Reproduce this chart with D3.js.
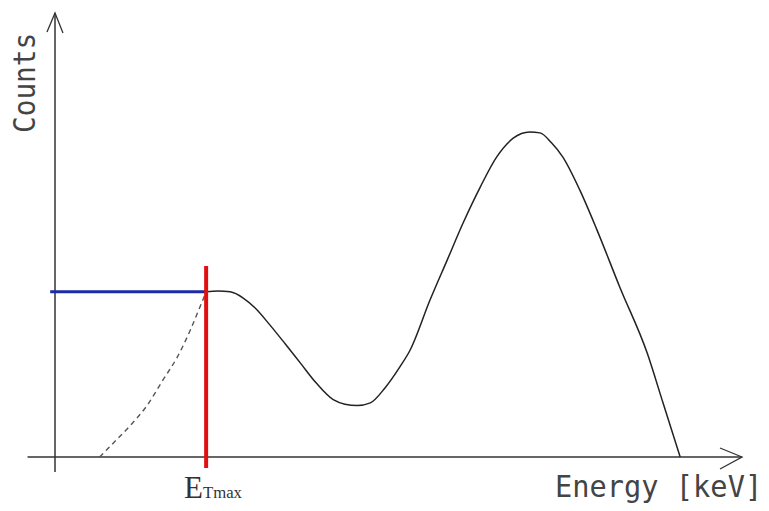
<!DOCTYPE html>
<html>
<head>
<meta charset="utf-8">
<script src="https://cdn.jsdelivr.net/npm/d3@7"></script>
<style>
  body { margin: 0; background: #fff; }
</style>
</head>
<body>
<svg id="chart"></svg>
<script>
// spectrum (solid) in arbitrary units (0-100)
var energy = [22.0, 23.7, 25.5, 27.4, 29.1, 31.3, 33.5, 35.7, 38.0, 40.5, 42.2, 44.0, 45.9, 48.0, 50.2, 51.7,
              54.6, 57.1, 59.4, 61.9, 64.3, 66.7, 69.1, 70.6, 72.3, 73.9, 76.4, 78.9, 82.2, 86.2, 88.5, 91.0]
var counts = [37.2, 37.4, 37.2, 35.8, 33.6, 29.7, 25.5, 21.2, 16.7, 12.9, 11.9, 11.6, 12.2, 15.5, 20.3, 24.1,
              35.4, 44.4, 52.7, 60.8, 67.6, 71.8, 73.2, 73.0, 70.7, 67.6, 60.1, 51.1, 38.3, 23.4, 12.2, 0]

// extrapolated low-energy part (dashed)
var dashEnergy = [6.5, 8.4, 10.9, 13.4, 15.7, 17.8, 19.7, 21.1, 22.0]
var dashCounts = [0, 3.0, 7.0, 11.6, 17.3, 22.5, 28.6, 33.8, 37.2]

var eTmax = 22.0
var cTmax = 37.2

var dimensions = {
  width: 769,
  height: 511
}

var svg = d3.select("#chart")
  .attr("width", dimensions.width)
  .attr("height", dimensions.height)

var x = d3.scaleLinear().domain([0, 100]).range([55, 742])
var y = d3.scaleLinear().domain([0, 100]).range([457, 13])

var axisColor = "#333"

// x axis + arrow
svg.append("line")
  .attr("x1", x(-4)).attr("x2", x(100))
  .attr("y1", y(0)).attr("y2", y(0))
  .attr("stroke", axisColor).attr("stroke-width", 1.5)
svg.append("path")
  .attr("d", d3.line()([[x(100) - 22, y(0) - 9], [x(100), y(0)], [x(100) - 22, y(0) + 12]]))
  .attr("fill", "none").attr("stroke", axisColor).attr("stroke-width", 1.3)

// y axis + arrow
svg.append("line")
  .attr("x1", x(0)).attr("x2", x(0))
  .attr("y1", y(-3.4)).attr("y2", y(100))
  .attr("stroke", axisColor).attr("stroke-width", 1.5)
svg.append("path")
  .attr("d", d3.line()([[x(0) - 8, y(100) + 19], [x(0), y(100)], [x(0) + 8, y(100) + 20]]))
  .attr("fill", "none").attr("stroke", axisColor).attr("stroke-width", 1.3)

// blue level line
svg.append("line")
  .attr("x1", x(-0.7)).attr("x2", x(eTmax))
  .attr("y1", y(cTmax)).attr("y2", y(cTmax))
  .attr("stroke", "#1c2aa8").attr("stroke-width", 3)

// dashed extrapolation
var dashData = dashEnergy.map((e, i) => [e, dashCounts[i]])
svg.append("path")
  .datum(dashData)
  .attr("d", d3.line().x(d => x(d[0])).y(d => y(d[1])).curve(d3.curveMonotoneX))
  .attr("fill", "none")
  .attr("stroke", "#555")
  .attr("stroke-width", 1.4)
  .attr("stroke-dasharray", "5,4")

// spectrum
var specData = energy.map((e, i) => [e, counts[i]])
svg.append("path")
  .datum(specData)
  .attr("d", d3.line().x(d => x(d[0])).y(d => y(d[1])).curve(d3.curveMonotoneX))
  .attr("fill", "none")
  .attr("stroke", "#222")
  .attr("stroke-width", 1.5)

// red E_Tmax marker
svg.append("line")
  .attr("x1", x(eTmax)).attr("x2", x(eTmax))
  .attr("y1", y(43.0)).attr("y2", y(-2.5))
  .attr("stroke", "#e01010").attr("stroke-width", 4)

// labels (squeezed horizontally, the original font is narrow)
svg.append("text")
  .attr("transform", "translate(35,133) rotate(-90) scale(0.925,1)")
  .style("font-family", "DejaVu Sans Mono")
  .style("font-size", "30px")
  .attr("fill", "#444")
  .text("Counts")

svg.append("text")
  .attr("transform", "translate(555,497) scale(0.925,1)")
  .style("font-family", "DejaVu Sans Mono")
  .style("font-size", "31px")
  .attr("fill", "#444")
  .text("Energy [keV]")

var eLabel = svg.append("text")
  .attr("x", 184).attr("y", 498)
  .style("font-family", "Liberation Serif")
  .attr("fill", "#333")
eLabel.append("tspan").style("font-size", "31px").text("E")
eLabel.append("tspan").style("font-size", "17px").attr("textLength", 39).attr("lengthAdjust", "spacingAndGlyphs").text("Tmax")
</script>
</body>
</html>
